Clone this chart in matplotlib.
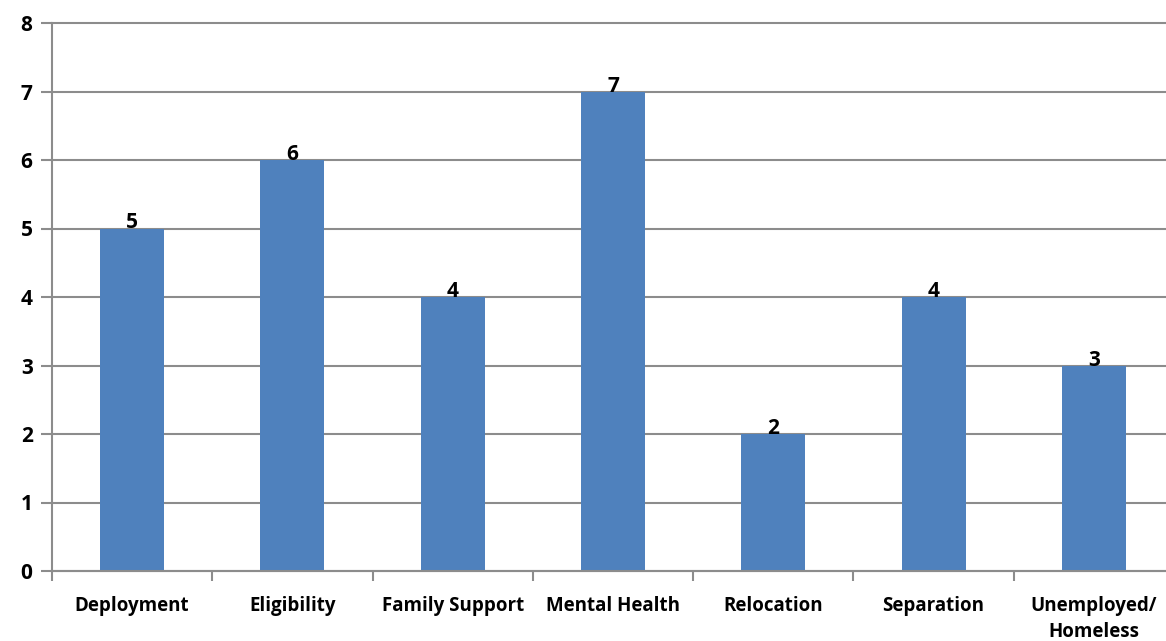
import numpy as np
import matplotlib.pyplot as plt
from matplotlib.ticker import FixedLocator

categories = ['Deployment', 'Eligibility', 'Family Support', 'Mental Health',
              'Relocation', 'Separation', 'Unemployed/\nHomeless']
counts = [5, 6, 4, 7, 2, 4, 3]
y_ticks = [0, 1, 2, 3, 4, 5, 6, 7, 8]

bar_color = '#4F81BD'
grid_color = '#8C8C8C'

plt.rcParams['font.family'] = ['Open Sans', 'DejaVu Sans']
plt.rcParams['font.weight'] = 'bold'

W, H = 1166, 641
fig = plt.figure(figsize=(W / 100, H / 100), dpi=100)
# plot area runs off the right edge of the picture, as in the reference
ax = fig.add_axes([52 / W, (H - 571) / H, 1122 / W, (571 - 23) / H])

x = np.arange(len(categories))
ax.bar(x, counts, width=0.4, color=bar_color, zorder=3)
for xi, v in zip(x, counts):
    ax.text(xi, v, str(v), ha='center', va='baseline', fontsize=15,
            fontweight='bold', zorder=4)

ax.set_xlim(-0.5, len(categories) - 0.5)
ax.set_ylim(0, 8)
ax.set_yticks(y_ticks)
ax.yaxis.grid(True, color=grid_color, linewidth=1.5, zorder=0)
for gl in ax.get_ygridlines():
    gl.set_clip_on(False)

ax.set_xticks(x)
ax.set_xticklabels(categories, fontsize=13.5, fontweight='bold', linespacing=1.4)
ax.tick_params(axis='x', which='major', length=0, pad=18)
ax.xaxis.set_minor_locator(FixedLocator(np.arange(-0.5, len(categories), 1.0)))
ax.tick_params(axis='x', which='minor', length=7, width=1.5, color=grid_color)
ax.tick_params(axis='y', length=8, width=1.5, color=grid_color, labelsize=15, pad=6)
for lbl in ax.get_yticklabels():
    lbl.set_fontweight('bold')

for s in ['top', 'right']:
    ax.spines[s].set_visible(False)
for s in ['left', 'bottom']:
    ax.spines[s].set_color(grid_color)
    ax.spines[s].set_linewidth(1.5)
    ax.spines[s].set_zorder(5)

fig.savefig('out.png', dpi=100)
